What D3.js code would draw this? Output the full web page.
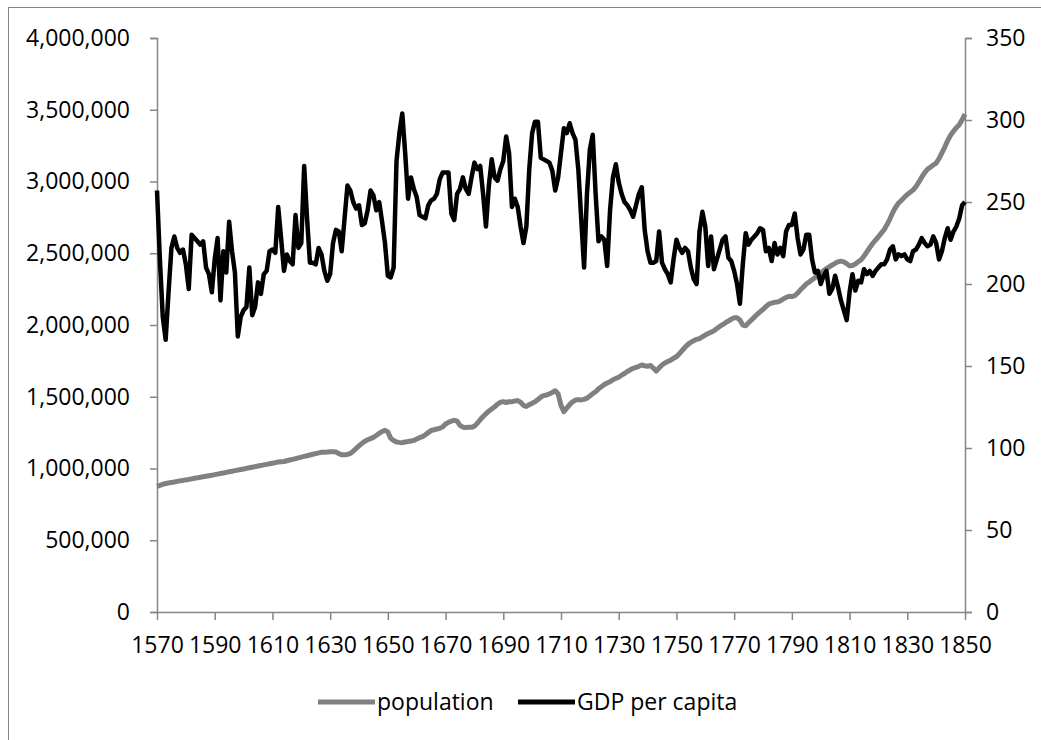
<!DOCTYPE html>
<html>
<head>
<meta charset="utf-8">
<script src="https://cdn.jsdelivr.net/npm/d3@7"></script>
<style>
  body { margin: 0; background: #fff; }
  svg { display: block; }
  text { font-family: "Open Sans", "Liberation Sans", sans-serif; fill: #000; }
</style>
</head>
<body>
<div id="chart"></div>
<script>
"use strict";

// one entry per year, 1570..1850
const years = d3.range(1570, 1851);

// population, thousands
const population = [
  875, 882, 890, 895, 899, 903, 906, 910, 914, 917,
  921, 924, 928, 932, 935, 939, 942, 946, 950, 953,
  957, 961, 965, 969, 973, 977, 981, 985, 989, 993,
  997, 1001, 1005, 1009, 1013, 1017, 1021, 1025, 1029, 1033,
  1037, 1041, 1045, 1047, 1049, 1054, 1059, 1064, 1069, 1074,
  1079, 1084, 1089, 1094, 1099, 1104, 1109, 1113, 1114, 1115,
  1117, 1117, 1115, 1104, 1095, 1096, 1098, 1105, 1120, 1140,
  1158, 1175, 1190, 1200, 1208, 1217, 1230, 1245, 1258, 1266,
  1255, 1210, 1195, 1185, 1182, 1180, 1185, 1188, 1192, 1196,
  1205, 1215, 1222, 1235, 1250, 1265, 1270, 1275, 1280, 1290,
  1310, 1322, 1330, 1336, 1330, 1300, 1288, 1285, 1287, 1287,
  1295, 1315, 1340, 1362, 1382, 1400, 1415, 1430, 1448, 1462,
  1466, 1460, 1465, 1466, 1470, 1473, 1462, 1440, 1432, 1445,
  1455, 1465, 1480, 1498, 1508, 1512, 1520, 1530, 1542, 1520,
  1440, 1396, 1420, 1445, 1465, 1477, 1480, 1478, 1482, 1490,
  1505, 1522, 1535, 1555, 1570, 1585, 1596, 1605, 1618, 1628,
  1636, 1650, 1662, 1676, 1688, 1698, 1705, 1712, 1721, 1716,
  1712, 1718, 1700, 1679, 1700, 1721, 1735, 1745, 1755, 1768,
  1779, 1800, 1822, 1845, 1865, 1880, 1890, 1900, 1905, 1918,
  1930, 1940, 1950, 1960, 1975, 1990, 2002, 2016, 2028, 2040,
  2050, 2050, 2035, 2000, 1995, 2015, 2035, 2055, 2075, 2092,
  2108, 2128, 2145, 2152, 2158, 2160, 2168, 2180, 2192, 2200,
  2198, 2205, 2222, 2245, 2265, 2285, 2300, 2315, 2330, 2346,
  2362, 2378, 2393, 2406, 2418, 2430, 2440, 2445, 2440, 2428,
  2412, 2415, 2425, 2440, 2455, 2480, 2510, 2540, 2568, 2592,
  2615, 2640, 2665, 2700, 2740, 2785, 2822, 2850, 2870, 2890,
  2910, 2925, 2940, 2965, 2995, 3030, 3060, 3085, 3100, 3115,
  3128, 3160, 3200, 3240, 3285, 3322, 3350, 3375, 3395, 3430,
  3470
];

// GDP per capita
const gdp = [
  257, 215, 180, 166, 195, 222, 229, 222, 219, 221,
  212, 197, 230, 228, 226, 224, 226, 210, 206, 195,
  215, 228, 190, 220, 207, 238, 220, 207, 168, 180,
  184, 186, 210, 181, 186, 201, 194, 206, 208, 220,
  221, 219, 247, 228, 208, 218, 214, 212, 242, 222,
  225, 272, 240, 213, 213, 212, 222, 218, 208, 202,
  206, 225, 233, 232, 220, 240, 260, 257, 250, 246,
  248, 236, 237, 245, 257, 254, 245, 250, 238, 225,
  205, 204, 210, 275, 292, 304, 280, 252, 265, 258,
  253, 242, 241, 240, 248, 251, 252, 255, 264, 268,
  268, 268, 243, 239, 255, 258, 265, 258, 255, 265,
  274, 270, 272, 255, 235, 260, 276, 265, 263, 270,
  275, 290, 280, 247, 252, 247, 235, 225, 235, 270,
  292, 299, 299, 277, 276, 275, 274, 269, 257, 265,
  280, 295, 292, 298, 292, 288, 270, 240, 210, 255,
  282, 291, 255, 226, 229, 227, 211, 245, 265, 273,
  262, 255, 250, 248, 245, 241, 248, 255, 259, 233,
  220, 213, 213, 214, 232, 213, 209, 206, 201, 215,
  227, 222, 219, 222, 220, 210, 203, 200, 232, 244,
  235, 211, 229, 209, 215, 221, 227, 229, 216, 214,
  208, 200, 188, 212, 231, 224, 227, 229, 231, 234,
  233, 220, 222, 214, 225, 218, 222, 217, 232, 236,
  236, 243, 228, 218, 221, 230, 230, 215, 207, 208,
  200, 205, 208, 194, 197, 205, 198, 190, 184, 178,
  195, 206, 196, 202, 201, 209, 206, 208, 205, 208,
  210, 212, 212, 215, 221, 223, 215, 218, 217, 218,
  215, 214, 220, 221, 224, 228, 225, 223, 224, 229,
  225, 215, 220, 228, 234, 227, 232, 235, 240, 248,
  250
];

const yearTicks = d3.range(1570, 1851, 20);
const popTicks = d3.range(0, 4000001, 500000);
const gdpTicks = d3.range(0, 351, 50);

const W = 1041, H = 740;
const axisColor = "#868686";
const fontSize = 23;

const svg = d3.select("#chart").append("svg")
  .attr("width", W)
  .attr("height", H);

// outer chart frame
svg.append("rect")
  .attr("x", 8.5).attr("y", 7.5)
  .attr("width", 1200).attr("height", 900)
  .attr("fill", "none")
  .attr("stroke", axisColor)
  .attr("stroke-width", 1);

const x = d3.scaleLinear().domain([1570, 1850]).range([157, 965]);
const yPop = d3.scaleLinear().domain([0, 4000000]).range([612, 38]);
const yGdp = d3.scaleLinear().domain([0, 350]).range([612, 38]);

const styleAxis = g => {
  g.selectAll("path, line").attr("stroke", axisColor).attr("stroke-width", 1.5);
  g.selectAll("text").attr("font-size", fontSize).attr("fill", "#000")
    .style("font-family", '"Open Sans", "Liberation Sans", sans-serif');
};

svg.append("g")
  .attr("transform", "translate(157,0)")
  .call(d3.axisLeft(yPop).tickValues(popTicks).tickFormat(d3.format(",")).tickSize(7).tickSizeOuter(7).tickPadding(20))
  .call(styleAxis);

svg.append("g")
  .attr("transform", "translate(965,0)")
  .call(d3.axisRight(yGdp).tickValues(gdpTicks).tickSize(7).tickSizeOuter(7).tickPadding(14))
  .call(styleAxis);

svg.append("g")
  .attr("transform", "translate(0,612)")
  .call(d3.axisBottom(x).tickValues(yearTicks).tickFormat(d3.format("d")).tickSize(8).tickSizeOuter(0).tickPadding(17))
  .call(styleAxis);

const popLine = d3.line()
  .x((d, i) => x(years[i]))
  .y(d => yPop(d * 1000));

const gdpLine = d3.line()
  .x((d, i) => x(years[i]))
  .y(d => yGdp(d));

svg.append("path")
  .datum(population)
  .attr("d", popLine)
  .attr("fill", "none")
  .attr("stroke", "#808080")
  .attr("stroke-width", 5)
  .attr("stroke-linejoin", "round");

svg.append("path")
  .datum(gdp)
  .attr("d", gdpLine)
  .attr("fill", "none")
  .attr("stroke", "#000")
  .attr("stroke-width", 4.5)
  .attr("stroke-linejoin", "round");

// legend
const legend = [
  {name: "population", color: "#808080", x: 318},
  {name: "GDP per capita", color: "#000", x: 518}
];
const lg = svg.append("g").selectAll("g").data(legend).join("g")
  .attr("transform", d => `translate(${d.x},702)`);
lg.append("line")
  .attr("x1", 0).attr("x2", 57)
  .attr("stroke", d => d.color)
  .attr("stroke-width", 5);
lg.append("text")
  .attr("x", 59)
  .attr("dy", "0.35em")
  .attr("font-size", fontSize)
  .text(d => d.name);
</script>
</body>
</html>
